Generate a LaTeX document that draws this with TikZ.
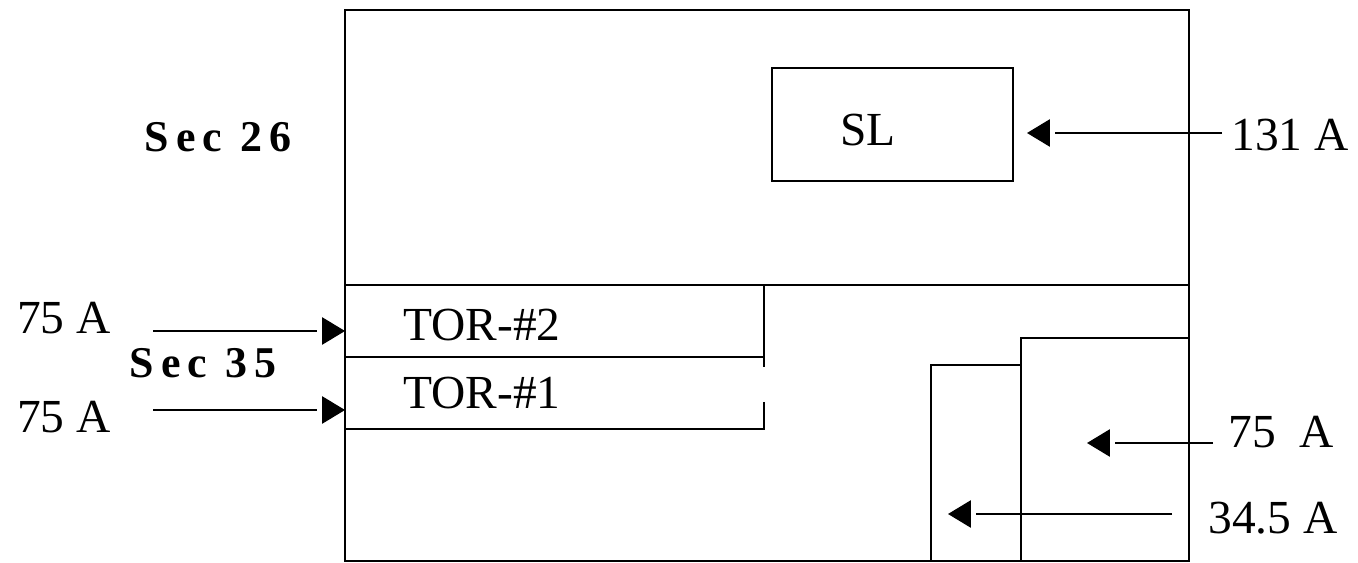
\documentclass[tikz,border=0pt]{standalone}
\usepackage{fontspec}
\setmainfont{Liberation Serif}
\newfontfamily\secfont[LetterSpace=16]{Liberation Serif}
\usetikzlibrary{arrows.meta,decorations.markings}

\begin{document}
\begin{tikzpicture}[x=0.02cm,y=-0.02cm,
    lbl/.style={font=\fontsize{27}{32}\selectfont,inner sep=0pt},
    seclbl/.style={font=\secfont\bfseries\fontsize{25}{29}\selectfont,inner sep=0pt},
    wall/.style={line width=1.1pt},
    feed/.style={line width=0.85pt,shorten >=16pt,
        decoration={markings, mark=at position 1 with {\arrow{Triangle[length=13pt,width=15.5pt]}}},postaction={decorate}}]
    \useasboundingbox (0,0) rectangle (1358,563);
    % frame and sections
    \draw[wall] (345,10) rectangle (1189,561);
    \draw[wall] (345,285) -- (1189,285);
    \node[wall,draw,minimum width=4.82cm,minimum height=2.26cm] (slbox) at (892.5,124.5) {};
    \node[lbl] (sl) at (868,130) {SL};
    % TOR strips
    \draw[wall] (345,357) -- (764,357);
    \draw[wall] (764,285) -- (764,367);
    \draw[wall] (764,402) -- (764,429) -- (345,429);
    \node[lbl,anchor=west] (tortwo) at (403,325) {TOR-\#2};
    \node[lbl,anchor=west] (torone) at (403,393) {TOR-\#1};
    % boxes at the lower right
    \draw[wall] (1021,561) -- (1021,338) -- (1189,338);
    \draw[wall] (931,561) -- (931,365) -- (1021,365);
    % section labels
    \node[seclbl] (sectop) at (218,137) {Sec 26};
    \node[seclbl] (secmid) at (203,363) {Sec 35};
    % currents in
    \node[lbl] (intwo) at (64,318) {75 A};
    \node[lbl] (inone) at (64,417) {75 A};
    \coordinate (intwos) at (153,331);
    \coordinate (intwot) at (345,331);
    \coordinate (inones) at (153,410);
    \coordinate (inonet) at (345,410);
    \draw[feed] (intwos) -- (intwot);
    \draw[feed] (inones) -- (inonet);
    % currents out
    \node[lbl,anchor=west] (slamp) at (1231,135) {131 A};
    \node[lbl,anchor=west] (bigamp) at (1228,432) {75\ \ A};
    \node[lbl,anchor=west] (smallamp) at (1208,518) {34.5 A};
    \coordinate (slamps) at (1222,133);
    \coordinate (slampt) at (1027,133);
    \coordinate (bigamps) at (1213,443);
    \coordinate (bigampt) at (1087,443);
    \coordinate (smallamps) at (1172,514);
    \coordinate (smallampt) at (948,514);
    \draw[feed] (slamps) -- (slampt);
    \draw[feed] (bigamps) -- (bigampt);
    \draw[feed] (smallamps) -- (smallampt);
\end{tikzpicture}
\end{document}
